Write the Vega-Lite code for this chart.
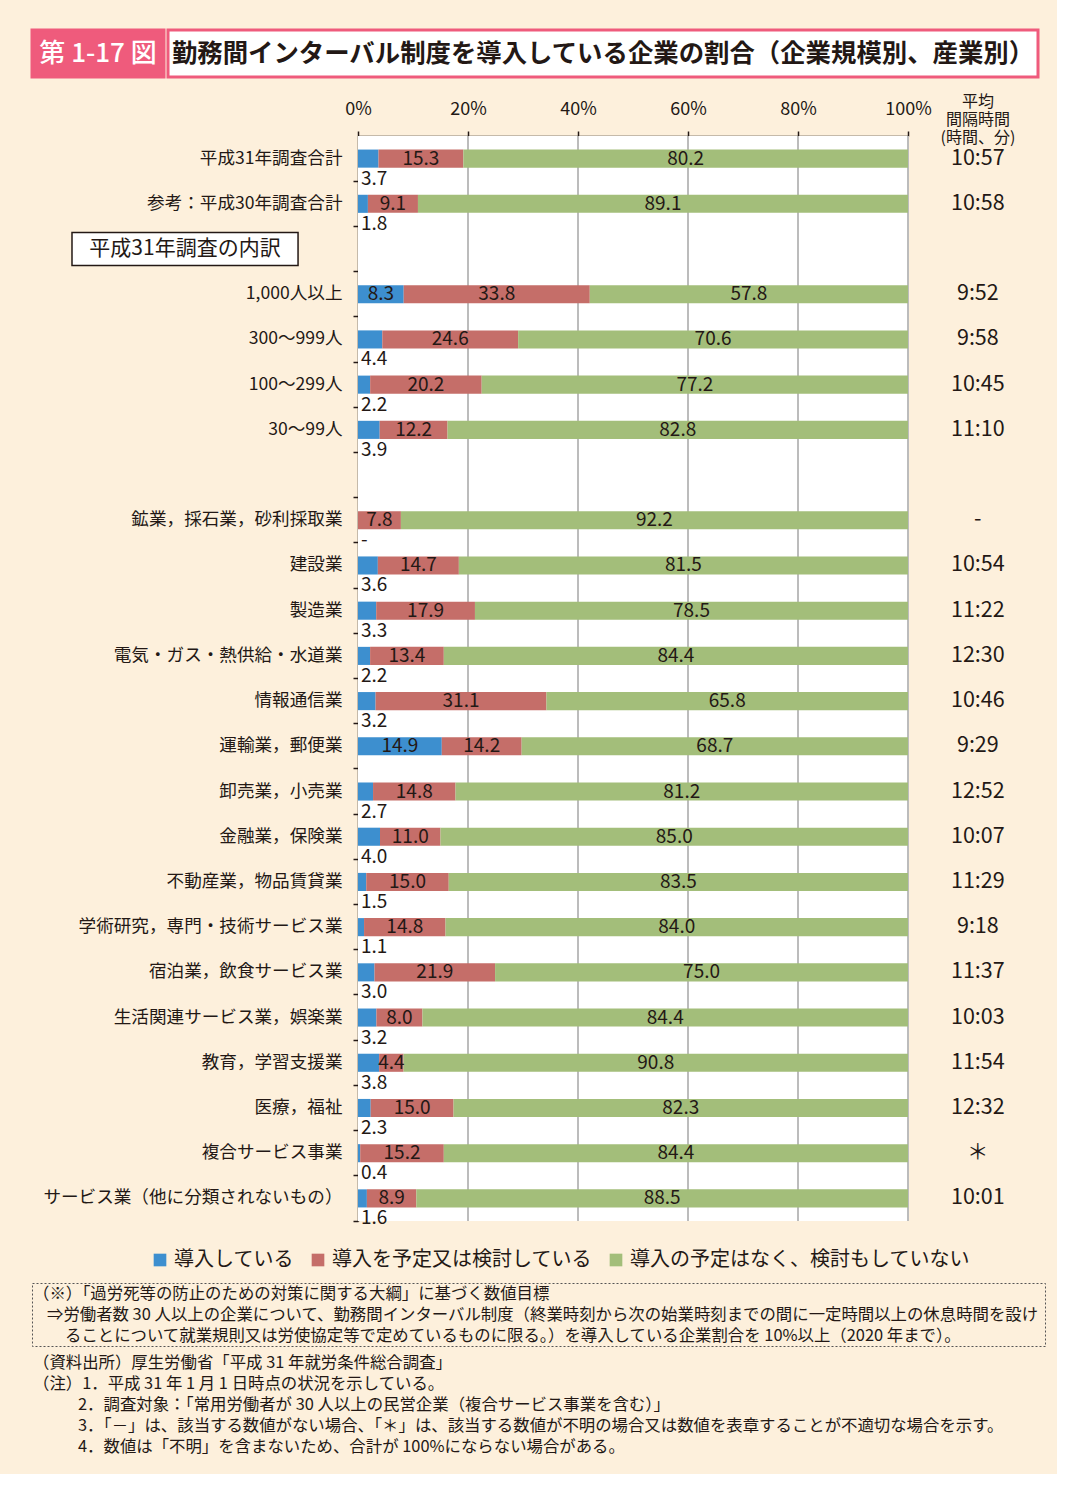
{
  "$schema": "https://vega.github.io/schema/vega-lite/v6.json",
  "background": "#FDF0DC",
  "padding": {"left": 30, "top": 28, "right": 11, "bottom": 17},
  "config": {
    "font": "Noto Sans CJK JP",
    "view": {"stroke": null},
    "text": {"color": "#231815"}
  },
  "datasets": {
    "rows": [
      {"cat": "平成31年調査合計", "導入している": 3.7, "導入を予定又は検討している": 15.3, "導入の予定はなく、検討もしていない": 80.2, "time": "10:57"},
      {"cat": "参考：平成30年調査合計", "導入している": 1.8, "導入を予定又は検討している": 9.1, "導入の予定はなく、検討もしていない": 89.1, "time": "10:58"},
      {"cat": "1,000人以上", "導入している": 8.3, "導入を予定又は検討している": 33.8, "導入の予定はなく、検討もしていない": 57.8, "time": "9:52"},
      {"cat": "300～999人", "導入している": 4.4, "導入を予定又は検討している": 24.6, "導入の予定はなく、検討もしていない": 70.6, "time": "9:58"},
      {"cat": "100～299人", "導入している": 2.2, "導入を予定又は検討している": 20.2, "導入の予定はなく、検討もしていない": 77.2, "time": "10:45"},
      {"cat": "30～99人", "導入している": 3.9, "導入を予定又は検討している": 12.2, "導入の予定はなく、検討もしていない": 82.8, "time": "11:10"},
      {"cat": "鉱業，採石業，砂利採取業", "導入している": null, "導入を予定又は検討している": 7.8, "導入の予定はなく、検討もしていない": 92.2, "time": "-"},
      {"cat": "建設業", "導入している": 3.6, "導入を予定又は検討している": 14.7, "導入の予定はなく、検討もしていない": 81.5, "time": "10:54"},
      {"cat": "製造業", "導入している": 3.3, "導入を予定又は検討している": 17.9, "導入の予定はなく、検討もしていない": 78.5, "time": "11:22"},
      {"cat": "電気・ガス・熱供給・水道業", "導入している": 2.2, "導入を予定又は検討している": 13.4, "導入の予定はなく、検討もしていない": 84.4, "time": "12:30"},
      {"cat": "情報通信業", "導入している": 3.2, "導入を予定又は検討している": 31.1, "導入の予定はなく、検討もしていない": 65.8, "time": "10:46"},
      {"cat": "運輸業，郵便業", "導入している": 14.9, "導入を予定又は検討している": 14.2, "導入の予定はなく、検討もしていない": 68.7, "time": "9:29"},
      {"cat": "卸売業，小売業", "導入している": 2.7, "導入を予定又は検討している": 14.8, "導入の予定はなく、検討もしていない": 81.2, "time": "12:52"},
      {"cat": "金融業，保険業", "導入している": 4.0, "導入を予定又は検討している": 11.0, "導入の予定はなく、検討もしていない": 85.0, "time": "10:07"},
      {"cat": "不動産業，物品賃貸業", "導入している": 1.5, "導入を予定又は検討している": 15.0, "導入の予定はなく、検討もしていない": 83.5, "time": "11:29"},
      {"cat": "学術研究，専門・技術サービス業", "導入している": 1.1, "導入を予定又は検討している": 14.8, "導入の予定はなく、検討もしていない": 84.0, "time": "9:18"},
      {"cat": "宿泊業，飲食サービス業", "導入している": 3.0, "導入を予定又は検討している": 21.9, "導入の予定はなく、検討もしていない": 75.0, "time": "11:37"},
      {"cat": "生活関連サービス業，娯楽業", "導入している": 3.2, "導入を予定又は検討している": 8.0, "導入の予定はなく、検討もしていない": 84.4, "time": "10:03"},
      {"cat": "教育，学習支援業", "導入している": 3.8, "導入を予定又は検討している": 4.4, "導入の予定はなく、検討もしていない": 90.8, "time": "11:54"},
      {"cat": "医療，福祉", "導入している": 2.3, "導入を予定又は検討している": 15.0, "導入の予定はなく、検討もしていない": 82.3, "time": "12:32"},
      {"cat": "複合サービス事業", "導入している": 0.4, "導入を予定又は検討している": 15.2, "導入の予定はなく、検討もしていない": 84.4, "time": "＊"},
      {"cat": "サービス業（他に分類されないもの）", "導入している": 1.6, "導入を予定又は検討している": 8.9, "導入の予定はなく、検討もしていない": 88.5, "time": "10:01"}
    ],
    "区分": [
      {"status": "導入している", "順": 1},
      {"status": "導入を予定又は検討している", "順": 2},
      {"status": "導入の予定はなく、検討もしていない", "順": 3}
    ],
    "box": [
      {"line": "（※）「過労死等の防止のための対策に関する大綱」に基づく数値目標"},
      {"line": "⇒労働者数 30 人以上の企業について、勤務間インターバル制度（終業時刻から次の始業時刻までの間に一定時間以上の休息時間を設け"},
      {"line": "ることについて就業規則又は労使協定等で定めているものに限る。）を導入している企業割合を 10%以上（2020 年まで）。"}
    ],
    "notes": [
      {"line": "（資料出所）厚生労働省「平成 31 年就労条件総合調査」"},
      {"line": "（注）1．平成 31 年 1 月 1 日時点の状況を示している。"},
      {"line": "2．調査対象：「常用労働者が 30 人以上の民営企業（複合サービス事業を含む）」"},
      {"line": "3．「－」は、該当する数値がない場合、「＊」は、該当する数値が不明の場合又は数値を表章することが不適切な場合を示す。"},
      {"line": "4．数値は「不明」を含まないため、合計が 100%にならない場合がある。"}
    ]
  },
  "spacing": 53,
  "vconcat": [
    {
      "spacing": 15,
      "vconcat": [
        {
          "spacing": 0,
          "hconcat": [
            {
              "width": 132, "height": 47,
              "view": {"fill": "#EF5B7C", "stroke": "#EF5B7C", "strokeWidth": 3},
              "data": {"values": [{"t": "第 1-17 図"}]},
              "mark": {"type": "text", "fontSize": 26, "fontWeight": 500, "color": "white"},
              "encoding": {"text": {"field": "t", "type": "nominal"}}
            },
            {
              "width": 870, "height": 47,
              "view": {"fill": "white", "stroke": "#EF5B7C", "strokeWidth": 3},
              "data": {"values": [{"t": "勤務間インターバル制度を導入している企業の割合（企業規模別、産業別）"}]},
              "mark": {"type": "text", "fontSize": 25.4, "fontWeight": "bold", "color": "#231815"},
              "encoding": {"text": {"field": "t", "type": "nominal"}}
            }
          ]
        },
        {
          "width": 876, "height": 1085,
          "title": {"text": ["平均", "間隔時間", "(時間、分)"], "anchor": "end", "frame": "group", "align": "center", "dx": 70, "offset": -46, "fontSize": 16, "fontWeight": "normal", "lineHeight": 18, "color": "#231815"},
          "data": {"name": "rows"},
          "layer": [
            {
              "mark": {"type": "rect", "fill": "white"},
              "encoding": {
                "x": {"datum": 0, "type": "quantitative", "scale": {"domain": [0, 1], "range": [326, 876]}},
                "x2": {"datum": 1}
              }
            },
            {"mark": {"type": "rule", "color": "#BDBDBD", "strokeWidth": 1.5}, "encoding": {"x": {"datum": 0.2, "type": "quantitative"}}},
            {"mark": {"type": "rule", "color": "#BDBDBD", "strokeWidth": 1.5}, "encoding": {"x": {"datum": 0.4, "type": "quantitative"}}},
            {"mark": {"type": "rule", "color": "#BDBDBD", "strokeWidth": 1.5}, "encoding": {"x": {"datum": 0.6, "type": "quantitative"}}},
            {"mark": {"type": "rule", "color": "#BDBDBD", "strokeWidth": 1.5}, "encoding": {"x": {"datum": 0.8, "type": "quantitative"}}},
            {"mark": {"type": "rule", "color": "#BDBDBD", "strokeWidth": 1.5}, "encoding": {"x": {"datum": 1, "type": "quantitative"}}},
            {
              "transform": [
                {"fold": ["導入している", "導入を予定又は検討している", "導入の予定はなく、検討もしていない"], "as": ["status", "pct"]},
                {"lookup": "status", "from": {"data": {"name": "区分"}, "key": "status", "fields": ["順"]}}
              ],
              "mark": {"type": "bar", "height": {"band": 0.4}},
              "encoding": {
                "y": {"field": "cat", "type": "nominal",
                  "scale": {"domain": ["平成31年調査合計", "参考：平成30年調査合計", "平成31年調査の内訳", "1,000人以上", "300～999人", "100～299人", "30～99人", "空白", "鉱業，採石業，砂利採取業", "建設業", "製造業", "電気・ガス・熱供給・水道業", "情報通信業", "運輸業，郵便業", "卸売業，小売業", "金融業，保険業", "不動産業，物品賃貸業", "学術研究，専門・技術サービス業", "宿泊業，飲食サービス業", "生活関連サービス業，娯楽業", "教育，学習支援業", "医療，福祉", "複合サービス事業", "サービス業（他に分類されないもの）"], "paddingInner": 0, "paddingOuter": 0},
                  "axis": {"orient": "left", "offset": -326, "labels": false, "ticks": true, "tickSize": 5, "tickColor": "#231815", "tickWidth": 1.5, "bandPosition": 1, "domain": true, "domainColor": "#231815", "domainWidth": 1.5, "title": null, "grid": false}},
                "x": {"field": "pct", "type": "quantitative", "stack": "normalize", "scale": {"domain": [0, 1], "range": [326, 876]},
                  "axis": {"orient": "top", "values": [0, 0.2, 0.4, 0.6, 0.8, 1], "format": ".0%", "labelFontSize": 18, "labelColor": "#231815", "labelPadding": 13, "labelFlush": false, "tickSize": 5, "tickColor": "#231815", "tickWidth": 1.5, "domainColor": "#231815", "domainWidth": 1.5, "grid": false, "title": null}},
                "color": {"field": "status", "type": "nominal",
                  "scale": {"domain": ["導入している", "導入を予定又は検討している", "導入の予定はなく、検討もしていない"], "range": ["#3D8FCF", "#C56E69", "#A3BE7A"]},
                  "legend": {"orient": "none", "legendX": 118, "legendY": 1220, "direction": "horizontal", "title": null, "symbolType": "square", "symbolSize": 160, "symbolStrokeWidth": 0, "labelFontSize": 20, "labelColor": "#231815", "labelOffset": 4, "columnPadding": 14, "labelLimit": 400}},
                "order": {"field": "順", "type": "quantitative"}
              }
            },
            {
              "transform": [
                {"fold": ["導入している", "導入を予定又は検討している", "導入の予定はなく、検討もしていない"], "as": ["status", "pct"]},
                {"lookup": "status", "from": {"data": {"name": "区分"}, "key": "status", "fields": ["順"]}}
              ],
              "mark": {"type": "text", "fontSize": 19, "baseline": "middle"},
              "encoding": {
                "y": {"field": "cat", "type": "nominal", "scale": {"paddingInner": 0, "paddingOuter": 0},
                  "axis": {"orient": "left", "offset": -326, "ticks": false, "domain": false, "labelPadding": 16, "labelFontSize": 17.6, "labelColor": "#231815", "labelLimit": 400, "title": null, "grid": false,
                    "labelExpr": "datum.value == '平成31年調査の内訳' || datum.value == '空白' ? '' : datum.value"}},
                "x": {"field": "pct", "type": "quantitative", "stack": "normalize", "bandPosition": 0.5, "scale": {"domain": [0, 1], "range": [326, 876]}},
                "detail": {"field": "status", "type": "nominal"},
                "order": {"field": "順", "type": "quantitative"},
                "text": {"condition": {"test": "datum.status == '導入している' && !(datum.pct >= 5)", "value": ""}, "field": "pct", "type": "quantitative", "format": ".1f"}
              }
            },
            {
              "transform": [{"filter": "datum['導入している'] == null || datum['導入している'] < 5"}],
              "mark": {"type": "text", "fontSize": 19, "align": "left", "baseline": "middle", "dx": 3, "dy": 20},
              "encoding": {
                "y": {"field": "cat", "type": "nominal", "axis": null},
                "x": {"datum": 0, "type": "quantitative"},
                "text": {"condition": {"test": "datum['導入している'] == null", "value": "-"}, "field": "導入している", "type": "quantitative", "format": ".1f"}
              }
            },
            {
              "mark": {"type": "text", "fontSize": 21.5, "align": "center", "baseline": "middle"},
              "encoding": {
                "y": {"field": "cat", "type": "nominal", "axis": null},
                "x": {"datum": 1.127, "type": "quantitative"},
                "text": {"field": "time", "type": "nominal"}
              }
            },
            {
              "data": {"values": [{"cat": "平成31年調査の内訳"}]},
              "mark": {"type": "bar", "height": {"band": 0.73}, "fill": "white", "stroke": "#231815", "strokeWidth": 1.5},
              "encoding": {
                "y": {"field": "cat", "type": "nominal", "axis": null},
                "x": {"datum": -0.52, "type": "quantitative"},
                "x2": {"datum": -0.109}
              }
            },
            {
              "data": {"values": [{"cat": "平成31年調査の内訳"}]},
              "mark": {"type": "text", "fontSize": 21, "align": "center", "baseline": "middle"},
              "encoding": {
                "y": {"field": "cat", "type": "nominal", "axis": null},
                "x": {"datum": -0.3145, "type": "quantitative"},
                "text": {"field": "cat", "type": "nominal"}
              }
            }
          ],
          "resolve": {"axis": {"y": "independent"}}
        }
      ]
    },
    {
      "spacing": 6,
      "vconcat": [
        {
          "width": 1013, "height": 63,
          "view": {"fill": null, "stroke": "#555555", "strokeWidth": 1, "strokeDash": [2, 2]},
          "data": {"name": "box"},
          "encoding": {
            "y": {"field": "line", "type": "nominal", "sort": null, "axis": null, "scale": {"paddingInner": 0, "paddingOuter": 0}},
            "x": {"datum": 0, "type": "quantitative", "axis": null, "scale": {"domain": [0, 1]}},
            "text": {"field": "line", "type": "nominal"}
          },
          "layer": [
            {"transform": [{"filter": "indexof(datum.line, '（') == 0"}], "mark": {"type": "text", "fontSize": 16.4, "align": "left", "baseline": "middle", "dx": 1}},
            {"transform": [{"filter": "indexof(datum.line, '⇒') == 0"}], "mark": {"type": "text", "fontSize": 16.4, "align": "left", "baseline": "middle", "dx": 15}},
            {"transform": [{"filter": "indexof(datum.line, 'る') == 0"}], "mark": {"type": "text", "fontSize": 16.4, "align": "left", "baseline": "middle", "dx": 33}}
          ]
        },
        {
          "width": 1013, "height": 104,
          "data": {"name": "notes"},
          "encoding": {
            "y": {"field": "line", "type": "nominal", "sort": null, "axis": null, "scale": {"paddingInner": 0, "paddingOuter": 0}},
            "x": {"datum": 0, "type": "quantitative", "axis": null, "scale": {"domain": [0, 1]}},
            "text": {"field": "line", "type": "nominal"}
          },
          "layer": [
            {"transform": [{"filter": "indexof(datum.line, '（') == 0"}], "mark": {"type": "text", "fontSize": 16.4, "align": "left", "baseline": "middle", "dx": 1}},
            {"transform": [{"filter": "indexof(datum.line, '（') != 0"}], "mark": {"type": "text", "fontSize": 16.4, "align": "left", "baseline": "middle", "dx": 46}}
          ]
        }
      ]
    }
  ]
}
